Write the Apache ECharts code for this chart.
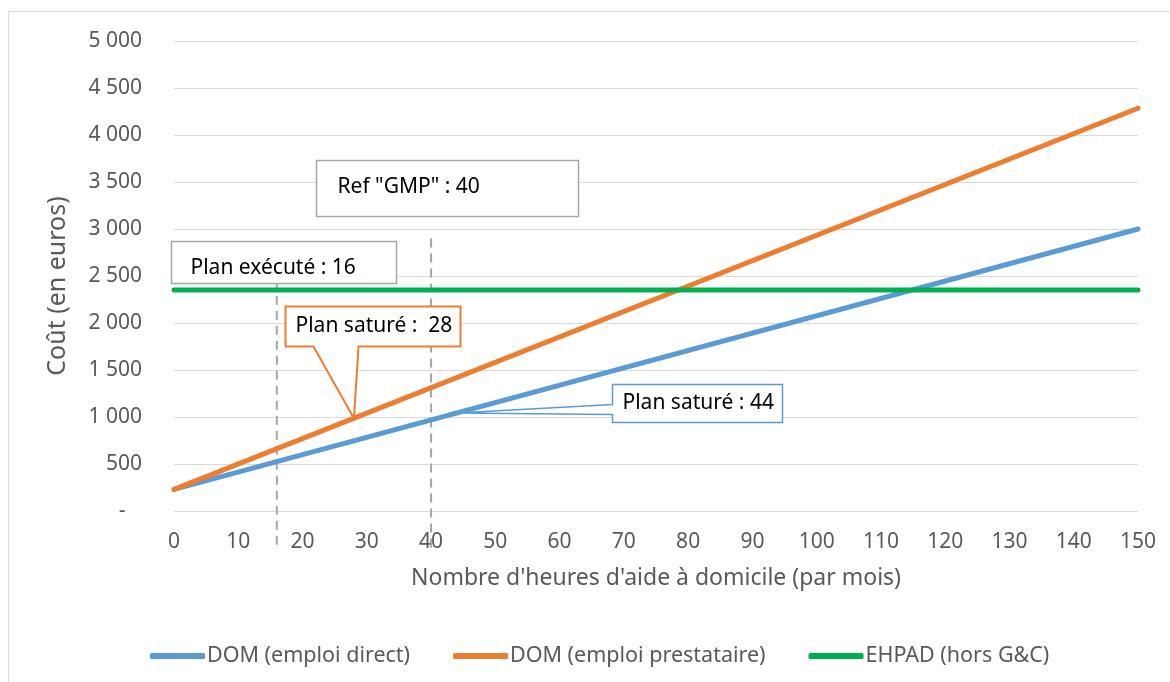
<!DOCTYPE html>
<html>
<head>
<meta charset="utf-8">
<script src="https://cdn.jsdelivr.net/npm/echarts@6/dist/echarts.min.js"></script>
<style>
  html, body { margin: 0; padding: 0; background: #fff; }
  #chart { width: 1170px; height: 682px; }
</style>
</head>
<body>
<div id="chart"></div>
<script>
// Monthly cost (euros) against hours of home help per month
const hours = [0, 150];
const costDirect = [230, 3000];          // DOM (emploi direct)
const costPrestataire = [230, 4285];     // DOM (emploi prestataire)
const costEhpad = [2350, 2350];          // EHPAD (hors G&C)

// Reference hour levels drawn as dashed verticals
const planExecuteHours = 16;
const refGmpHours = 40;
// Saturation points of the plan for each home-care mode
const planSaturePrestataireHours = 28;
const planSatureDirectHours = 44;

const seriesNames = ['DOM (emploi direct)', 'DOM (emploi prestataire)', 'EHPAD (hors G&C)'];
const colors = ['#5b9bd5', '#ed7d31', '#00b050'];

const FONT = '"Noto Sans", "DejaVu Sans", sans-serif';
const GREY_TEXT = '#595959';

function pairs(xs, ys) { return xs.map((x, i) => [x, ys[i]]); }
function valueAt(xs, ys, x) {
  const t = (x - xs[0]) / (xs[1] - xs[0]);
  return ys[0] + t * (ys[1] - ys[0]);
}
function thousands(v) {
  if (v === 0) return '-   ';
  return String(v).replace(/\B(?=(\d{3})+(?!\d))/g, ' ');
}

// Dashed verticals: [hour, top value, bottom value]; they run a little below the axis
const guides = [
  [planExecuteHours, 2450, -395],
  [refGmpHours, 2900, -395]
];

// Text boxes and callouts; box corner given in axis units, size in pixels
const notes = [
  { text: 'Plan exécuté : ' + planExecuteHours, corner: [-0.5, 2868], w: 225, h: 42, tx: 19, ty: 27,
    stroke: '#a6a6a6', lw: 1.5 },
  { text: 'Ref "GMP" : ' + refGmpHours, corner: [22.1, 3731], w: 262, h: 56, tx: 21, ty: 27,
    stroke: '#a6a6a6', lw: 1.5 },
  { text: 'Plan saturé :  ' + planSaturePrestataireHours, corner: [17.3, 2185], w: 175, h: 40, tx: 10, ty: 20,
    stroke: '#ed7d31', lw: 2,
    tip: [planSaturePrestataireHours, valueAt(hours, costPrestataire, planSaturePrestataireHours)],
    tail: 'bottom', base: [28, 73] },
  { text: 'Plan saturé : ' + planSatureDirectHours, corner: [68.15, 1354], w: 170, h: 38, tx: 10, ty: 19,
    stroke: '#5b9bd5', lw: 1.5,
    tip: [planSatureDirectHours, valueAt(hours, costDirect, planSatureDirectHours)],
    tail: 'left', base: [20, 30] }
];

const chart = echarts.init(document.getElementById('chart'), null, { renderer: 'canvas' });

const lineSeries = [costDirect, costPrestataire, costEhpad].map((ys, i) => ({
  name: seriesNames[i],
  type: 'line',
  data: pairs(hours, ys),
  showSymbol: false,
  symbol: 'none',
  z: 3 + i,
  lineStyle: { color: colors[i], width: 5, cap: 'round' },
  itemStyle: { color: colors[i] },
  emphasis: { disabled: true }
}));

chart.setOption({
  animation: false,
  textStyle: { fontFamily: FONT },
  graphic: [{
    type: 'rect',
    shape: { x: 8.5, y: 11.5, width: 1300, height: 800 },
    style: { fill: 'none', stroke: '#d9d9d9', lineWidth: 1 },
    silent: true,
    z: -10
  }],
  grid: { left: 174, right: 32, top: 41, bottom: 171, containLabel: false },
  legend: {
    data: seriesNames,
    left: 145,
    top: 640,
    icon: 'roundRect',
    itemWidth: 55,
    itemHeight: 6,
    itemGap: 43,
    textStyle: { fontFamily: FONT, fontSize: 21.5, color: GREY_TEXT, padding: [0, 0, 0, -3] }
  },
  xAxis: {
    type: 'value',
    min: 0, max: 150, interval: 10,
    name: "Nombre d'heures d'aide à domicile (par mois)",
    nameLocation: 'middle',
    nameGap: 56,
    nameTextStyle: { fontFamily: FONT, fontSize: 23, color: GREY_TEXT, verticalAlign: 'top' },
    axisLine: { show: false },
    axisTick: { show: false },
    splitLine: { show: false },
    axisLabel: { margin: 21, fontFamily: FONT, fontSize: 21, color: GREY_TEXT }
  },
  yAxis: {
    type: 'value',
    min: 0, max: 5000, interval: 500,
    name: 'Coût (en euros)',
    nameLocation: 'middle',
    nameGap: 104,
    nameTextStyle: { fontFamily: FONT, fontSize: 25, color: GREY_TEXT, padding: [0, 20, 0, 0] },
    axisLine: { show: false },
    axisTick: { show: false },
    splitLine: { lineStyle: { color: '#d9d9d9', width: 1 } },
    axisLabel: { margin: 32, fontFamily: FONT, fontSize: 21, color: GREY_TEXT, formatter: thousands }
  },
  series: [
    {
      name: 'guides',
      type: 'custom',
      clip: false,
      z: 2,
      silent: true,
      data: guides,
      renderItem: (params, api) => {
        const p1 = api.coord([api.value(0), api.value(1)]);
        const p2 = api.coord([api.value(0), api.value(2)]);
        return {
          type: 'line',
          shape: { x1: p1[0], y1: p1[1], x2: p2[0], y2: p2[1] },
          style: { stroke: '#a6a6a6', lineWidth: 2, lineDash: [9, 6] }
        };
      }
    },
    ...lineSeries,
    {
      name: 'notes',
      type: 'custom',
      clip: false,
      z: 10,
      silent: true,
      data: notes.map((n, i) => [n.corner[0], n.corner[1], i]),
      renderItem: (params, api) => {
        const n = notes[params.dataIndex];
        const c = api.coord([api.value(0), api.value(1)]);
        const x = Math.round(c[0]) + 0.5, y = Math.round(c[1]) + 0.5;
        const r = x + n.w, b = y + n.h;
        let pts;
        if (n.tip) {
          const t = api.coord(n.tip);
          if (n.tail === 'bottom') {
            pts = [[x, y], [r, y], [r, b], [x + n.base[1], b], t, [x + n.base[0], b], [x, b]];
          } else {
            pts = [[x, y], [r, y], [r, b], [x, b], [x, y + n.base[1]], t, [x, y + n.base[0]]];
          }
        } else {
          pts = [[x, y], [r, y], [r, b], [x, b]];
        }
        return {
          type: 'group',
          children: [
            {
              type: 'polygon',
              shape: { points: pts },
              style: { fill: '#ffffff', stroke: n.stroke, lineWidth: n.lw, lineJoin: 'miter' }
            },
            {
              type: 'text',
              x: x + n.tx,
              y: y + n.ty,
              style: {
                text: n.text,
                fontFamily: FONT,
                fontSize: 21,
                fill: '#000000',
                verticalAlign: 'middle',
                align: 'left'
              }
            }
          ]
        };
      }
    }
  ]
});
</script>
</body>
</html>
